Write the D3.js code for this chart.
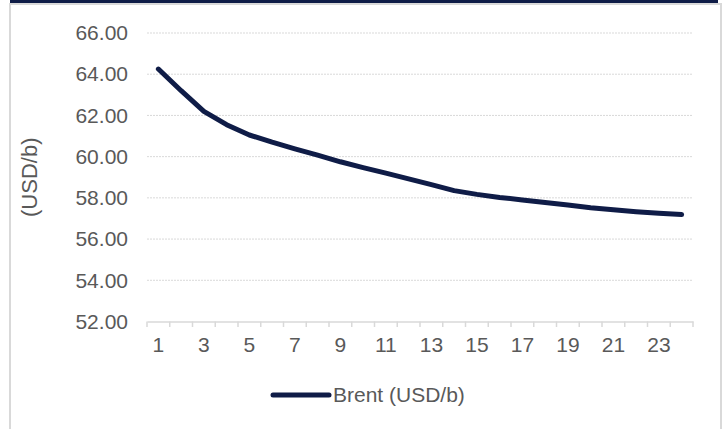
<!DOCTYPE html>
<html><head><meta charset="utf-8">
<script src="https://cdn.jsdelivr.net/npm/d3@7"></script>
<style>body{margin:0;background:#fff}svg{display:block}text{font-family:"Liberation Sans",Arial,sans-serif}</style>
</head><body>
<svg id="c" width="725" height="429"></svg>
<script>
const categories = d3.range(1, 25);
const brent = [64.25, 63.2, 62.2, 61.55, 61.05, 60.7, 60.38, 60.07, 59.75, 59.47, 59.2, 58.92,
               58.64, 58.35, 58.17, 58.02, 57.9, 57.78, 57.65, 57.52, 57.42, 57.33, 57.25, 57.19];
const yTicks = [52, 54, 56, 58, 60, 62, 64, 66];
const xLabels = categories.filter(d => d % 2 === 1);
const seriesName = "Brent (USD/b)";
const yTitle = "(USD/b)";

const navy = "#0f1c47", txt = "#595959", grid = "#d9d9d9";
const svg = d3.select("#c");

// frame
svg.append("rect").attr("x", 10).attr("y", 0).attr("width", 708).attr("height", 3).attr("fill", navy);
svg.append("rect").attr("x", 10).attr("y", 4).attr("width", 711).attr("height", 440)
  .attr("fill", "none").attr("stroke", grid).attr("stroke-width", 2);

const L = 147, R = 693, T = 33, B = 321.5;
const x = d3.scaleBand().domain(categories).range([L, R]);
const y = d3.scaleLinear().domain([52, 66]).range([B, T]);

// gridlines
svg.append("g").selectAll("line").data(yTicks.filter(d => d !== 52)).join("line")
  .attr("x1", L).attr("x2", R).attr("y1", d => y(d)).attr("y2", d => y(d))
  .attr("stroke", grid).attr("stroke-width", 1).attr("stroke-dasharray", "2,1");

// y axis labels
const ya = svg.append("g").attr("transform", `translate(${L},0)`)
  .call(d3.axisLeft(y).tickValues(yTicks).tickSize(0).tickPadding(19).tickFormat(d3.format(".2f")));
ya.select(".domain").remove();
ya.selectAll("text").attr("font-size", 21).attr("fill", txt).attr("font-family", "Liberation Sans, Arial");

// x axis
const xa = svg.append("g").attr("transform", `translate(0,${B})`)
  .call(d3.axisBottom(x).tickValues(xLabels).tickSize(0).tickPadding(16));
xa.select(".domain").attr("stroke", grid).attr("stroke-width", 1.5);
xa.selectAll("text").attr("font-size", 21).attr("fill", txt).attr("font-family", "Liberation Sans, Arial");
// category boundary ticks
const bounds = categories.map(d => x(d)).concat([R]);
svg.append("g").selectAll("line").data(bounds).join("line")
  .attr("x1", d => d).attr("x2", d => d).attr("y1", B).attr("y2", B + 5.5)
  .attr("stroke", grid).attr("stroke-width", 1.5);

// y title
svg.append("text").attr("transform", `translate(37,${(T + B) / 2}) rotate(-90)`)
  .attr("text-anchor", "middle").attr("font-size", 22).attr("fill", txt).text(yTitle);

// line
const line = d3.line().x((d, i) => x(categories[i]) + x.bandwidth() / 2).y(d => y(d));
svg.append("path").datum(brent).attr("d", line).attr("fill", "none")
  .attr("stroke", navy).attr("stroke-width", 5).attr("stroke-linecap", "round").attr("stroke-linejoin", "round");

// legend
svg.append("line").attr("x1", 273).attr("x2", 329).attr("y1", 395).attr("y2", 395)
  .attr("stroke", navy).attr("stroke-width", 5).attr("stroke-linecap", "round");
svg.append("text").attr("x", 333).attr("y", 402).attr("font-size", 21).attr("fill", txt).text(seriesName);
</script>
</body></html>
